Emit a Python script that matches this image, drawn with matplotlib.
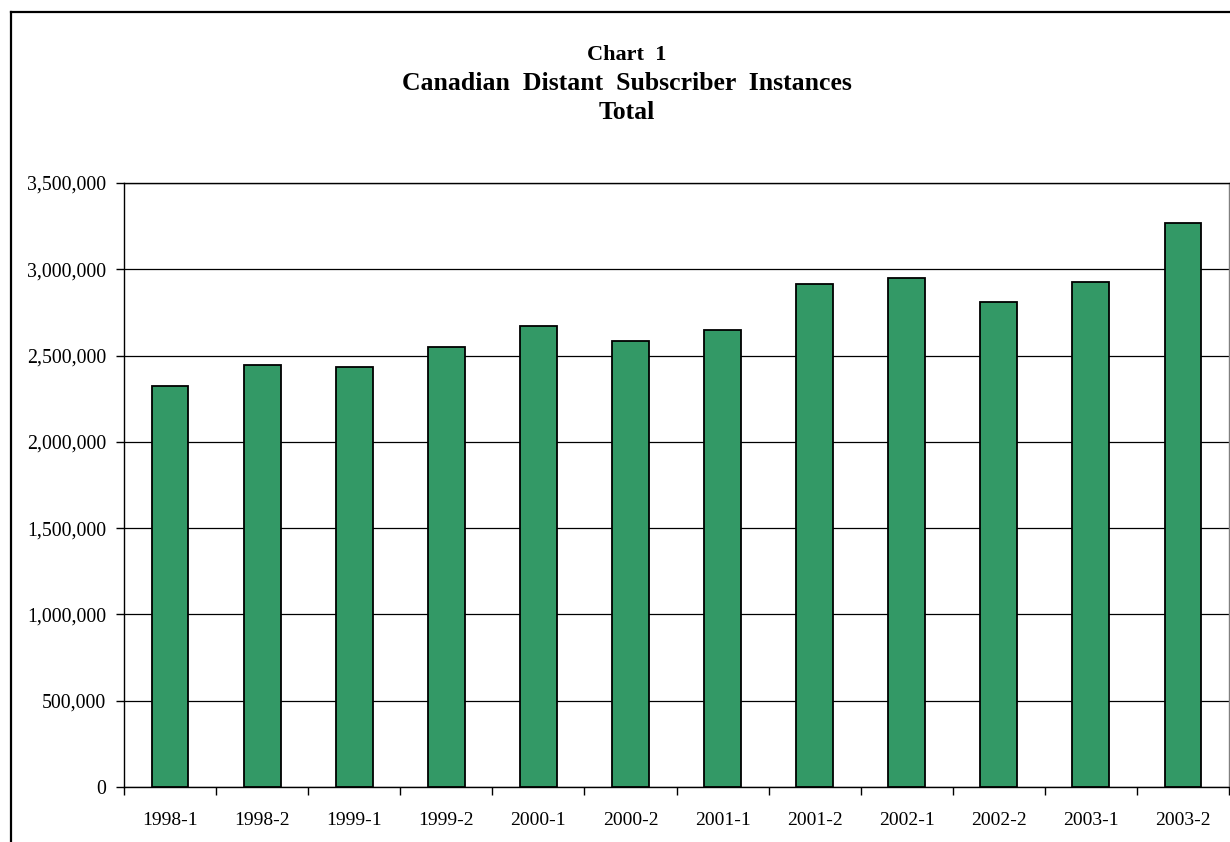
import matplotlib
matplotlib.use("Agg")
import matplotlib.pyplot as plt
from matplotlib.lines import Line2D
from matplotlib.ticker import FuncFormatter, MultipleLocator

categories = ["1998-1", "1998-2", "1999-1", "1999-2", "2000-1", "2000-2",
              "2001-1", "2001-2", "2002-1", "2002-2", "2003-1", "2003-2"]
values = [2322000, 2446000, 2434000, 2548000, 2670000, 2587000,
          2647000, 2913000, 2948000, 2809000, 2929000, 3270000]
title_lines = ["Chart  1", "Canadian  Distant  Subscriber  Instances", "Total"]

plt.rcParams['font.family'] = ['Liberation Serif', 'DejaVu Serif']

W, H = 1230, 842
fig = plt.figure(figsize=(W / 100, H / 100), dpi=100)
fig.patch.set_facecolor("white")

# outer chart border (left and top visible)
fig.add_artist(Line2D([11 / W, 11 / W], [0, 1 - 12 / H], color="black", lw=1.6, transform=fig.transFigure))
fig.add_artist(Line2D([11 / W, 1], [1 - 12 / H, 1 - 12 / H], color="black", lw=1.6, transform=fig.transFigure))

left, right, top, bottom = 124, 1229, 183, 787
ax = fig.add_axes([left / W, 1 - bottom / H, (right - left) / W, (bottom - top) / H])

x = list(range(len(categories)))
ax.bar(x, values, width=0.4, color="#339966", edgecolor="black", linewidth=1.3, zorder=3)

ax.set_xlim(-0.5, len(categories) - 0.5)
ax.set_ylim(0, 3500000)
ax.yaxis.set_major_locator(MultipleLocator(500000))
ax.yaxis.set_major_formatter(FuncFormatter(lambda v, p: f"{int(v):,}"))
ax.grid(axis="y", color="black", linewidth=0.9, zorder=1)
ax.set_axisbelow(True)

ax.set_xticks(x)
ax.set_xticklabels(categories)
ax.set_xticks([i + 0.5 for i in range(-1, len(categories))], minor=True)
ax.tick_params(axis="x", which="major", length=0, pad=18, labelsize=14)
ax.tick_params(axis="x", which="minor", length=6, width=1, direction="out")
ax.tick_params(axis="y", length=6, width=1, direction="out", pad=7, labelsize=14.3)

for s in ["left", "bottom", "top"]:
    ax.spines[s].set_color("black")
    ax.spines[s].set_linewidth(1.0)
ax.spines["right"].set_color("#808080")
ax.spines["right"].set_linewidth(1.0)

baselines = [60, 90, 119]
sizes = [16, 18.5, 18.5]
for t, yy, sz in zip(title_lines, baselines, sizes):
    fig.text(627 / W, 1 - yy / H, t, ha="center", va="baseline", fontsize=sz, fontweight="bold")

fig.savefig("out.png", dpi=100)
